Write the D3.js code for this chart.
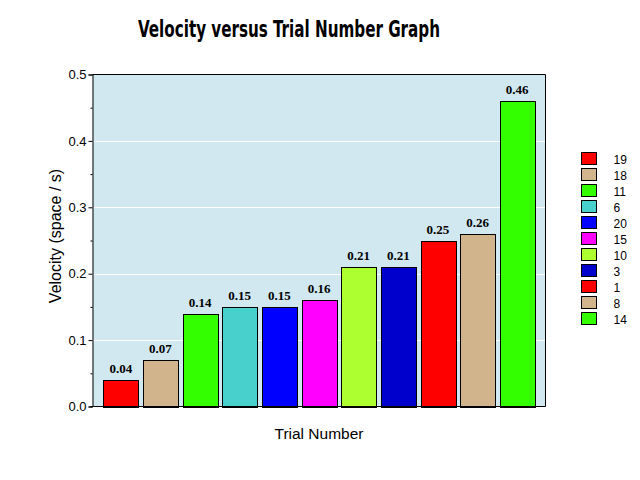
<!DOCTYPE html>
<html>
<head>
<meta charset="utf-8">
<script src="https://cdn.jsdelivr.net/npm/d3@7"></script>
<style>
  html, body { margin: 0; padding: 0; background: #ffffff; }
  svg { display: block; }
</style>
</head>
<body>
<svg id="chart" width="640" height="480"></svg>
<script>
// ---- data ----
const trials = ["19", "18", "11", "6", "20", "15", "10", "3", "1", "8", "14"];
const velocities = [0.04, 0.07, 0.14, 0.15, 0.15, 0.16, 0.21, 0.21, 0.25, 0.26, 0.46];
const barColors = ["#ff0000", "#d2b48c", "#33ff00", "#48d1cc", "#0000ff", "#ff00ff",
                   "#adff2f", "#0000cd", "#ff0000", "#d2b48c", "#33ff00"];
const yTicks = [0.0, 0.1, 0.2, 0.3, 0.4, 0.5];
const yMinorTicks = [0.05, 0.15, 0.25, 0.35, 0.45];
const titleText = "Velocity versus Trial Number Graph";
const xLabel = "Trial Number";
const yLabel = "Velocity (space / s)";

(function () {
const svg = d3.select("#chart");
const pLeft = 92.5, pRight = 545.5, pTop = 74.5, pBottom = 406.5;
const sans = "'Liberation Sans', Arial, sans-serif";

const x = d3.scaleBand().domain(d3.range(trials.length))
  .range([pLeft, pRight]).paddingInner(0.126).paddingOuter(0.277);
const y = d3.scaleLinear().domain([0, 0.5]).range([pBottom, pTop]);

// plot background
svg.append("rect").attr("x", pLeft).attr("y", pTop)
  .attr("width", pRight - pLeft).attr("height", pBottom - pTop)
  .attr("fill", "#d1e8f0");

// gridlines
svg.append("g").selectAll("line").data(yTicks.slice(1, -1)).join("line")
  .attr("x1", pLeft).attr("x2", pRight)
  .attr("y1", d => Math.round(y(d)) + 0.5).attr("y2", d => Math.round(y(d)) + 0.5)
  .attr("stroke", "#ffffff").attr("stroke-width", 1);

// bars
svg.append("g").selectAll("rect").data(velocities).join("rect")
  .attr("x", (d, i) => Math.round(x(i)) + 0.5)
  .attr("y", d => Math.round(y(d)) + 0.5)
  .attr("width", Math.round(x.bandwidth()))
  .attr("height", d => Math.round(y(0)) - Math.round(y(d)))
  .attr("fill", (d, i) => barColors[i])
  .attr("stroke", "#000000").attr("stroke-width", 1);

// value labels
svg.append("g").selectAll("text").data(velocities).join("text")
  .attr("x", (d, i) => x(i) + x.bandwidth() / 2)
  .attr("y", d => y(d) - 7)
  .attr("text-anchor", "middle")
  .attr("font-family", "'Liberation Serif', 'Times New Roman', serif")
  .attr("font-weight", "bold").attr("font-size", 13)
  .attr("fill", "#000")
  .text(d => d.toFixed(2));

// plot border (top/right)
svg.append("line").attr("x1", pLeft).attr("x2", pRight).attr("y1", pTop).attr("y2", pTop)
  .attr("stroke", "#000");
svg.append("line").attr("x1", pRight).attr("x2", pRight).attr("y1", pTop).attr("y2", pBottom)
  .attr("stroke", "#000");

const yAxis = d3.axisLeft(y).tickValues(yTicks).tickFormat(d3.format(".1f"))
  .tickSize(4).tickPadding(2);
const gy = svg.append("g").attr("transform", `translate(${pLeft},0)`).call(yAxis);
gy.select(".domain").attr("stroke", "#000");
gy.selectAll(".tick line").attr("stroke", "#000");
gy.selectAll(".tick text").attr("font-family", sans)
  .attr("font-size", 13).attr("fill", "#000");

const yMinor = d3.axisLeft(y).tickValues(yMinorTicks).tickFormat("").tickSize(2);
const gym = svg.append("g").attr("transform", `translate(${pLeft},0)`).call(yMinor);
gym.select(".domain").remove();
gym.selectAll(".tick line").attr("stroke", "#000");

const xAxis = d3.axisBottom(x).tickValues([]).tickSizeOuter(0);
const gx = svg.append("g").attr("transform", `translate(0,${pBottom - 0.5})`).call(xAxis);
gx.select(".domain").attr("stroke", "#000").attr("d", `M${pLeft - 2},0.5H${pRight}`);

// axis titles
svg.append("text").attr("x", 319).attr("y", 439)
  .attr("text-anchor", "middle")
  .attr("font-family", sans).attr("font-size", 15.5)
  .text(xLabel);
svg.append("text")
  .attr("transform", `translate(61,236) rotate(-90)`)
  .attr("text-anchor", "middle")
  .attr("font-family", sans).attr("font-size", 16)
  .text(yLabel);

// title
svg.append("text").attr("x", 289).attr("y", 37)
  .attr("text-anchor", "middle")
  .attr("font-family", "'DejaVu Sans Condensed', 'DejaVu Sans', sans-serif")
  .attr("font-weight", "bold").attr("font-size", 23)
  .attr("textLength", 302).attr("lengthAdjust", "spacingAndGlyphs")
  .text(titleText);

// legend
const lg = svg.append("g").selectAll("g").data(trials).join("g")
  .attr("transform", (d, i) => `translate(581.5,${152.5 + i * 16})`);
lg.append("rect").attr("width", 15).attr("height", 12)
  .attr("fill", (d, i) => barColors[i]).attr("stroke", "#000");
lg.append("text").attr("x", 32).attr("y", 11)
  .attr("font-family", sans).attr("font-size", 12)
  .text(d => d);
})();
</script>
</body>
</html>
